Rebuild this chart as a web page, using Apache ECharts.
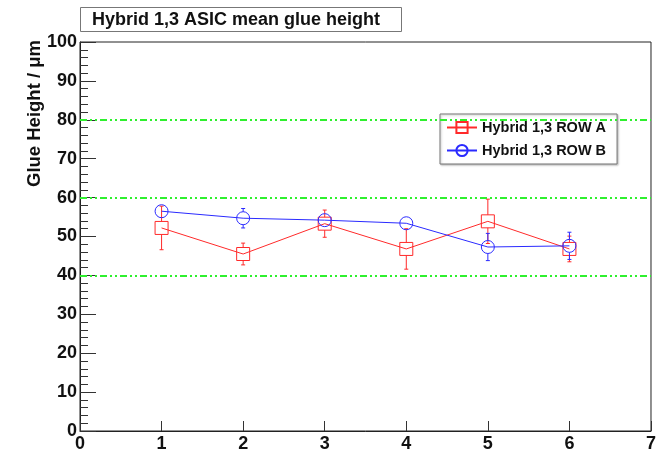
<!DOCTYPE html>
<html>
<head>
<meta charset="utf-8">
<script src="https://cdn.jsdelivr.net/npm/echarts@6/dist/echarts.min.js"></script>
<style>
    html, body { margin: 0; padding: 0; background: #fff; }
    #chart { width: 659px; height: 453px; }
</style>
</head>
<body>
<div id="chart"></div>
<script>
// ASIC index along x
const asicIndex = [1, 2, 3, 4, 5, 6]
// row A mean glue height and error
const rowA = [52.2, 45.5, 53.3, 46.8, 53.9, 46.8]
const rowAErr = [5.6, 2.8, 3.5, 5.2, 5.7, 3.3]
// row B mean glue height and error
const rowB = [56.5, 54.7, 54.2, 53.4, 47.3, 47.6]
const rowBErr = [0.8, 2.5, 1.3, 0.8, 3.5, 3.5]
// green reference levels
const refLevels = [40, 60, 80]

const font = 'Liberation Sans, Arial, Helvetica, sans-serif'
const red = '#ff2a2a'
const blue = '#2a2aff'

const pts = (ys) => asicIndex.map((x, i) => [x, ys[i]])
const errPts = (ys, es) => asicIndex.map((x, i) => [x, ys[i], es[i]])

// 误差线，画在标记外面
function errorBar(color, half) {
    return function (params, api) {
        const x = api.value(0)
        const v = api.value(1)
        const e = api.value(2)
        const top = api.coord([x, v + e])
        const mid = api.coord([x, v])
        const bot = api.coord([x, v - e])
        const children = []
        const style = { stroke: color, lineWidth: 1 }
        if (mid[1] - top[1] > half) {
            children.push({ type: 'line', shape: { x1: top[0], y1: top[1], x2: top[0], y2: mid[1] - half }, style })
            children.push({ type: 'line', shape: { x1: top[0] - 2, y1: top[1], x2: top[0] + 2, y2: top[1] }, style })
        }
        if (bot[1] - mid[1] > half) {
            children.push({ type: 'line', shape: { x1: bot[0], y1: mid[1] + half, x2: bot[0], y2: bot[1] }, style })
            children.push({ type: 'line', shape: { x1: bot[0] - 2, y1: bot[1], x2: bot[0] + 2, y2: bot[1] }, style })
        }
        return { type: 'group', children }
    }
}

const chart = echarts.init(document.getElementById('chart'))
chart.setOption({
    animation: false,
    textStyle: { fontFamily: font },
    title: {
        text: 'Hybrid 1,3 ASIC mean glue height',
        left: 80,
        top: 7,
        padding: [4, 22, 3, 12],
        borderColor: '#777',
        borderWidth: 1,
        textStyle: { fontSize: 18, fontWeight: 'bold', color: '#111', fontFamily: font }
    },
    grid: {
        left: 80,
        right: 5,
        top: 42,
        bottom: 20,
        show: true,
        borderColor: '#222',
        borderWidth: 1
    },
    legend: {
        orient: 'vertical',
        left: 440,
        top: 114,
        padding: [6, 11, 6, 6],
        itemGap: 8,
        itemWidth: 30,
        itemHeight: 14,
        backgroundColor: '#fff',
        borderColor: '#777',
        borderWidth: 1,
        shadowColor: 'rgba(0,0,0,0.25)',
        shadowBlur: 2,
        shadowOffsetX: 1,
        shadowOffsetY: 1,
        textStyle: { fontSize: 14.5, fontWeight: 'bold', color: '#111', fontFamily: font },
        data: ['Hybrid 1,3 ROW A', 'Hybrid 1,3 ROW B']
    },
    xAxis: {
        type: 'value',
        min: 0,
        max: 7,
        interval: 1,
        axisLine: { lineStyle: { color: '#222', width: 1 } },
        axisTick: { inside: true, length: 10, lineStyle: { color: '#333' } },
        splitLine: { show: false },
        axisLabel: { fontSize: 18, fontWeight: 'bold', color: '#111', margin: 4, fontFamily: font }
    },
    yAxis: {
        type: 'value',
        min: 0,
        max: 100,
        interval: 10,
        axisLine: { show: true, lineStyle: { color: '#222', width: 1 } },
        axisTick: { show: true, inside: true, length: 16, lineStyle: { color: '#333' } },
        minorTick: { show: true, splitNumber: 5, length: 8, lineStyle: { color: '#333' } },
        splitLine: { show: false },
        axisLabel: { fontSize: 18, fontWeight: 'bold', color: '#111', margin: 3, fontFamily: font }
    },
    graphic: [{
        type: 'text',
        x: 35,
        y: 40,
        rotation: Math.PI / 2,
        style: {
            text: 'Glue Height / μm',
            fontSize: 18.5,
            fontWeight: 'bold',
            fill: '#111',
            fontFamily: font,
            align: 'right',
            verticalAlign: 'middle'
        }
    }],
    series: [
        {
            name: 'Hybrid 1,3 ROW A',
            type: 'line',
            data: pts(rowA),
            symbol: 'rect',
            symbolSize: 13,
            color: red,
            lineStyle: { color: red, width: 1 },
            itemStyle: { color: 'rgba(255,255,255,0)', borderColor: red, borderWidth: 1 },
            z: 3,
            markLine: {
                silent: true,
                symbol: 'none',
                label: { show: false },
                lineStyle: { color: '#2ef02e', width: 2, type: [7, 3, 2, 3, 2, 3] },
                data: refLevels.map(v => ({ yAxis: v }))
            }
        },
        {
            name: 'Hybrid 1,3 ROW B',
            type: 'line',
            data: pts(rowB),
            symbol: 'circle',
            symbolSize: 13,
            color: blue,
            lineStyle: { color: blue, width: 1 },
            itemStyle: { color: 'rgba(255,255,255,0)', borderColor: blue, borderWidth: 1 },
            z: 4
        },
        {
            type: 'custom',
            data: errPts(rowA, rowAErr),
            renderItem: errorBar(red, 6.5),
            z: 3
        },
        {
            type: 'custom',
            data: errPts(rowB, rowBErr),
            renderItem: errorBar(blue, 6.5),
            z: 4
        }
    ]
})
</script>
</body>
</html>
